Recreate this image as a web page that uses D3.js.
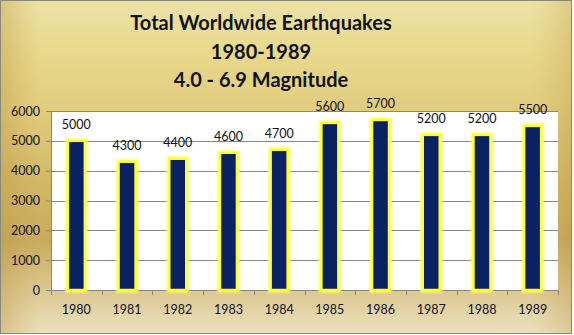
<!DOCTYPE html>
<html><head><meta charset="utf-8">
<script src="https://cdn.jsdelivr.net/npm/d3@7"></script>
<style>html,body{margin:0;padding:0;background:#fff;}svg{display:block;}</style>
</head><body>
<script>
const years = ["1980","1981","1982","1983","1984","1985","1986","1987","1988","1989"];
const quakes = [5000,4300,4400,4600,4700,5600,5700,5200,5200,5500];
const yTicks = [0,1000,2000,3000,4000,5000,6000];
const titleLines = ["Total Worldwide Earthquakes","1980-1989","4.0 - 6.9 Magnitude"];

const W=574,H=335;
const m={left:51,right:16,top:111,bottom:45};
const svg=d3.select("body").append("svg").attr("width",W).attr("height",H);
const defs=svg.append("defs");
const g1=defs.append("linearGradient").attr("id","bg").attr("x1",0).attr("y1",0).attr("x2",0).attr("y2",1);
[[0,"#ece3a8"],[0.15,"#e9d98c"],[0.32,"#e2cd7e"],[0.55,"#d2b865"],[0.72,"#c9ab5e"],[0.86,"#dcc68e"],[1,"#ebe0bf"]]
  .forEach(([o,c])=>g1.append("stop").attr("offset",o).attr("stop-color",c));
const g2=defs.append("linearGradient").attr("id","side").attr("x1",0).attr("y1",0).attr("x2",1).attr("y2",0);
[[0,"#b89440",0.4],[0.07,"#c9a650",0.0],[0.93,"#c9a650",0.0],[1,"#b89440",0.3]]
  .forEach(([o,c,a])=>g2.append("stop").attr("offset",o).attr("stop-color",c).attr("stop-opacity",a));
const gl=defs.append("filter").attr("id","glow").attr("x","-30%").attr("y","-10%").attr("width","160%").attr("height","120%");
gl.append("feGaussianBlur").attr("in","SourceGraphic").attr("stdDeviation",0.8);

svg.append("rect").attr("x",0).attr("y",0).attr("width",572).attr("height",334).attr("fill","url(#bg)");
svg.append("rect").attr("x",0).attr("y",0).attr("width",572).attr("height",334).attr("fill","url(#side)");
svg.append("rect").attr("x",0.5).attr("y",0.5).attr("width",571).attr("height",333)
  .attr("fill","none").attr("stroke","#8a8a7a").attr("stroke-width",1);

const x=d3.scaleBand().domain(years).range([m.left,W-m.right]).paddingInner(0).paddingOuter(0);
const y=d3.scaleLinear().domain([0,6000]).range([H-m.bottom,m.top]);

svg.append("rect").attr("x",m.left).attr("y",m.top).attr("width",W-m.right-m.left).attr("height",H-m.bottom-m.top).attr("fill","#fff");

// grid
svg.append("g").selectAll("line").data(yTicks.filter(d=>d>0)).join("line")
  .attr("x1",m.left).attr("x2",W-m.right).attr("y1",d=>Math.round(y(d))+0.5).attr("y2",d=>Math.round(y(d))+0.5)
  .attr("stroke","#868686").attr("stroke-width",1);

// title
svg.append("g").selectAll("text").data(titleLines).join("text")
  .attr("x",W/2-26).attr("y",(d,i)=>30+i*28.5).attr("text-anchor","middle")
  .attr("font-family","Lato, 'Open Sans', sans-serif").attr("font-weight","bold").attr("font-size",20)
  .attr("fill","#111").text(d=>d);

// y axis
const ya=svg.append("g").attr("transform",`translate(${m.left},0)`)
  .call(d3.axisLeft(y).tickValues(yTicks).tickSize(5).tickPadding(6).tickFormat(d3.format("d")));
ya.select(".domain").attr("stroke","#868686");
ya.selectAll(".tick line").attr("stroke","#868686");
ya.selectAll("text").attr("font-family","Lato, sans-serif").attr("font-size",12.5).attr("fill","#111");

// x axis
const xa=svg.append("g").attr("transform",`translate(0,${H-m.bottom})`)
  .call(d3.axisBottom(x).tickSize(0).tickPadding(15));
xa.select(".domain").attr("stroke","#868686");
xa.selectAll("text").attr("font-family","Lato, sans-serif").attr("font-size",12.5).attr("fill","#111");
svg.append("g").selectAll("line").data(d3.range(years.length+1)).join("line")
  .attr("x1",i=>Math.round(m.left+i*x.step())+0.5).attr("x2",i=>Math.round(m.left+i*x.step())+0.5)
  .attr("y1",H-m.bottom).attr("y2",H-m.bottom+5).attr("stroke","#868686");

// bars
const bw=17;
const bars=svg.append("g");
bars.selectAll("rect.glow").data(quakes).join("rect").attr("class","glow")
  .attr("x",(d,i)=>x(years[i])+x.bandwidth()/2-bw/2).attr("y",d=>y(d))
  .attr("width",bw).attr("height",d=>y(0)-y(d))
  .attr("fill","none").attr("stroke","#ffff70").attr("stroke-width",5).attr("filter","url(#glow)");
bars.selectAll("rect.bar").data(quakes).join("rect").attr("class","bar")
  .attr("x",(d,i)=>x(years[i])+x.bandwidth()/2-bw/2).attr("y",d=>y(d))
  .attr("width",bw).attr("height",d=>y(0)-y(d))
  .attr("fill","#0b2262").attr("stroke","#ffff2e").attr("stroke-width",2.5);

// value labels
svg.append("g").selectAll("text").data(quakes).join("text")
  .attr("x",(d,i)=>x(years[i])+x.bandwidth()/2).attr("y",d=>y(d)-12)
  .attr("text-anchor","middle").attr("font-family","Lato, sans-serif").attr("font-size",12.5).attr("fill","#111")
  .text(d=>d);
</script>
</body></html>
